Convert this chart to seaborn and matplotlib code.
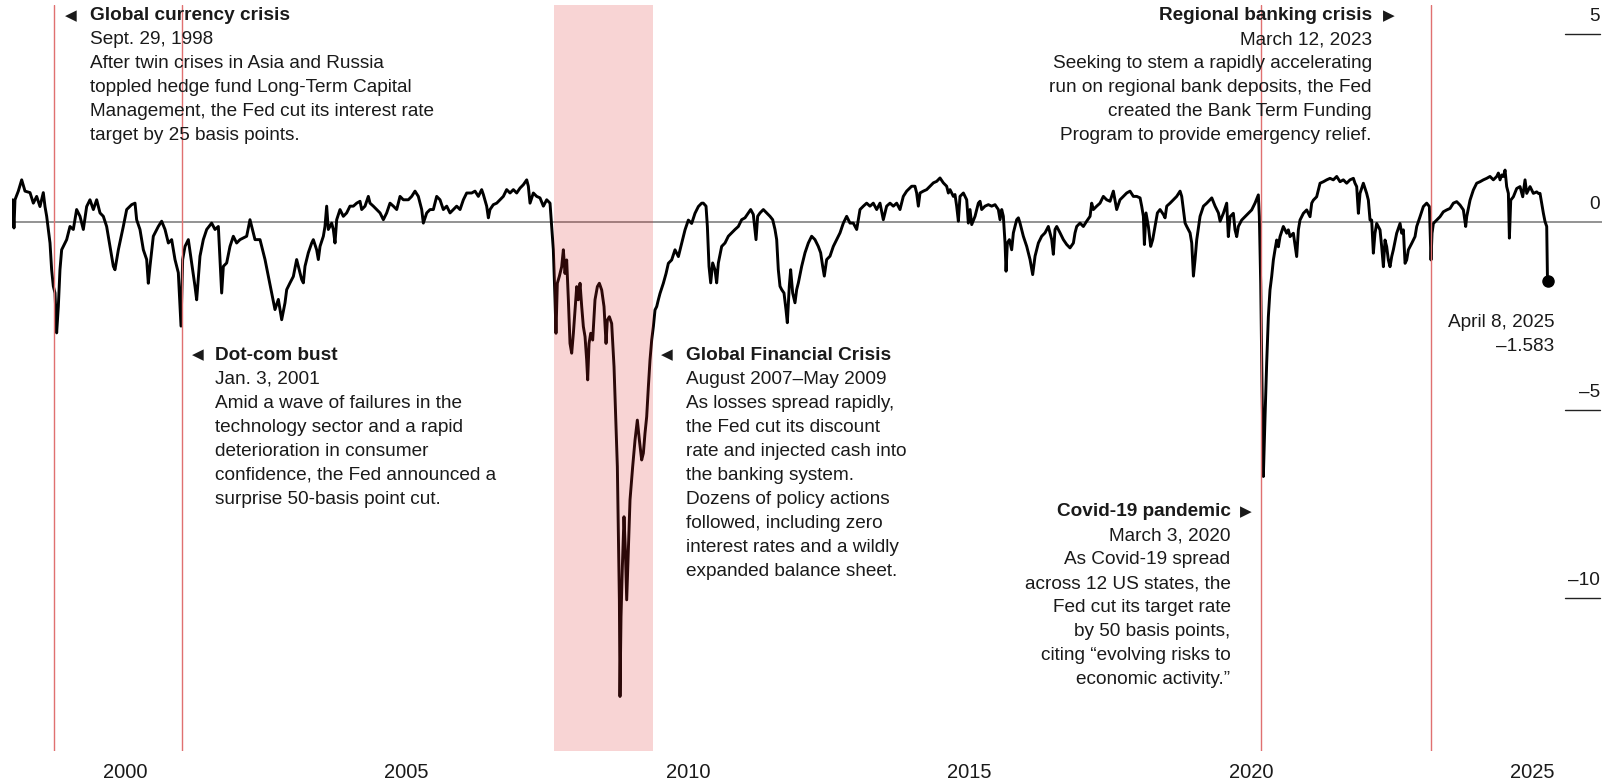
import matplotlib
matplotlib.use("Agg")
import matplotlib.pyplot as plt
import matplotlib.transforms as mtransforms
import numpy as np
import pandas as pd
import seaborn as sns

# Financial conditions index (decimal year, value).
years_98_03 = [1998.005, 1998.028, 1998.046, 1998.105, 1998.165, 1998.224, 1998.313, 1998.372, 1998.431, 1998.490,
               1998.549, 1998.579, 1998.609, 1998.668, 1998.697, 1998.727, 1998.757, 1998.786, 1998.816, 1998.845,
               1998.875, 1998.905, 1998.964, 1999.023, 1999.082, 1999.141, 1999.201, 1999.260, 1999.319, 1999.378,
               1999.438, 1999.497, 1999.556, 1999.615, 1999.674, 1999.734, 1999.793, 1999.822, 1999.882, 1999.970,
               2000.030, 2000.118, 2000.178, 2000.207, 2000.266, 2000.326, 2000.385, 2000.414, 2000.444, 2000.503,
               2000.592, 2000.651, 2000.711, 2000.770, 2000.829, 2000.888, 2000.947, 2000.995, 2001.024, 2001.066,
               2001.125, 2001.184, 2001.243, 2001.273, 2001.332, 2001.391, 2001.451, 2001.539, 2001.599, 2001.658,
               2001.717, 2001.747, 2001.806, 2001.865, 2001.924, 2001.983, 2002.043, 2002.161, 2002.220, 2002.250,
               2002.309, 2002.398, 2002.487, 2002.546, 2002.605, 2002.664, 2002.724, 2002.783, 2002.842, 2002.872,
               2002.931, 2002.990, 2003.049, 2003.108]
values_98_03 = [0.59, -0.16, 0.59, 0.82, 1.12, 0.82, 0.78, 0.50, 0.68, 0.41,
                0.78, 0.41, 0.15, -0.56, -1.27, -1.71, -1.89, -2.95, -2.24, -1.27,
                -0.74, -0.65, -0.47, -0.12, -0.20, 0.33, 0.15, -0.20, 0.41, 0.59,
                0.33, 0.59, 0.24, 0.15, -0.12, -0.65, -1.18, -1.27, -0.74, -0.12,
                0.33, 0.46, 0.50, 0.06, -0.20, -0.74, -1.00, -1.63, -1.18, -0.38,
                -0.12, 0.02, -0.20, -0.56, -0.47, -1.00, -1.35, -2.77, -1.00, -0.65,
                -0.47, -1.09, -1.71, -2.07, -0.91, -0.47, -0.20, -0.03, -0.20, -0.12,
                -1.89, -1.18, -1.09, -0.65, -0.38, -0.56, -0.47, -0.38, 0.06, -0.12,
                -0.47, -0.47, -1.00, -1.44, -1.88, -2.33, -2.06, -2.60, -2.15, -1.80,
                -1.62, -1.45, -1.00, -1.35]

years_03_07 = [2003.138, 2003.168, 2003.197, 2003.256, 2003.316, 2003.345, 2003.404, 2003.434, 2003.464, 2003.523,
               2003.552, 2003.582, 2003.611, 2003.671, 2003.700, 2003.730, 2003.760, 2003.819, 2003.878, 2003.937,
               2003.996, 2004.056, 2004.115, 2004.174, 2004.204, 2004.263, 2004.322, 2004.352, 2004.411, 2004.470,
               2004.530, 2004.589, 2004.648, 2004.707, 2004.767, 2004.826, 2004.885, 2004.944, 2005.033, 2005.092,
               2005.151, 2005.210, 2005.270, 2005.299, 2005.359, 2005.418, 2005.477, 2005.536, 2005.595, 2005.654,
               2005.714, 2005.773, 2005.832, 2005.891, 2005.951, 2006.010, 2006.069, 2006.158, 2006.217, 2006.276,
               2006.335, 2006.365, 2006.424, 2006.454, 2006.483, 2006.542, 2006.602, 2006.661, 2006.720, 2006.779,
               2006.839, 2006.898, 2006.957, 2007.016, 2007.075, 2007.135, 2007.164, 2007.194, 2007.253, 2007.312,
               2007.371, 2007.431, 2007.490, 2007.549]
values_03_07 = [-1.53, -1.62, -1.18, -0.82, -0.56, -0.47, -0.74, -1.00, -0.65, -0.38,
                -0.12, 0.42, -0.20, -0.03, -0.20, -0.56, 0.06, 0.33, 0.15, 0.24,
                0.42, 0.42, 0.50, 0.55, 0.33, 0.42, 0.68, 0.50, 0.42, 0.33,
                0.24, 0.06, 0.24, 0.50, 0.42, 0.33, 0.68, 0.59, 0.59, 0.68,
                0.82, 0.68, 0.33, -0.03, 0.24, 0.33, 0.33, 0.68, 0.59, 0.33,
                0.42, 0.24, 0.33, 0.42, 0.33, 0.59, 0.77, 0.77, 0.82, 0.68,
                0.86, 0.73, 0.42, 0.11, 0.33, 0.46, 0.50, 0.59, 0.68, 0.86,
                0.77, 0.86, 0.77, 0.90, 0.99, 1.12, 0.95, 0.50, 0.77, 0.68,
                0.64, 0.42, 0.59, 0.50]

years_07_10 = [2007.578, 2007.608, 2007.638, 2007.655, 2007.679, 2007.714, 2007.756, 2007.786, 2007.815, 2007.845,
               2007.875, 2007.904, 2007.934, 2007.964, 2007.993, 2008.023, 2008.052, 2008.082, 2008.112, 2008.141,
               2008.171, 2008.200, 2008.218, 2008.242, 2008.272, 2008.307, 2008.348, 2008.390, 2008.425, 2008.467,
               2008.508, 2008.544, 2008.567, 2008.603, 2008.644, 2008.686, 2008.715, 2008.745, 2008.763, 2008.781,
               2008.792, 2008.810, 2008.834, 2008.863, 2008.887, 2008.911, 2008.940, 2008.970, 2009.017, 2009.059,
               2009.100, 2009.136, 2009.177, 2009.207, 2009.236, 2009.266, 2009.296, 2009.325, 2009.355, 2009.385,
               2009.414, 2009.444, 2009.473, 2009.503, 2009.562, 2009.610, 2009.651, 2009.710, 2009.769, 2009.829,
               2009.888, 2009.947, 2010.006, 2010.065, 2010.124, 2010.184, 2010.243]
values_07_10 = [-0.12, -0.74, -2.07, -2.96, -1.63, -1.45, -1.19, -0.74, -1.37, -1.01,
                -2.07, -3.23, -3.49, -2.96, -2.34, -1.72, -2.07, -1.63, -2.25, -2.78,
                -3.05, -3.67, -4.20, -3.23, -2.96, -3.14, -2.07, -1.72, -1.63, -1.81,
                -2.25, -3.23, -2.61, -2.52, -2.70, -3.85, -5.18, -6.51, -8.28, -10.05,
                -12.62, -10.50, -9.17, -7.84, -8.72, -10.05, -8.72, -7.39, -6.51, -5.80,
                -5.27, -5.80, -6.33, -6.15, -5.62, -5.18, -4.38, -3.67, -3.14, -2.78,
                -2.34, -2.25, -2.07, -1.90, -1.63, -1.37, -1.10, -1.01, -0.74, -0.92,
                -0.57, -0.21, 0.05, -0.04, 0.23, 0.41, 0.50]

years_10_14 = [2010.272, 2010.320, 2010.344, 2010.373, 2010.403, 2010.438, 2010.479, 2010.509, 2010.539, 2010.598,
               2010.657, 2010.716, 2010.776, 2010.835, 2010.894, 2010.953, 2011.012, 2011.072, 2011.113, 2011.160,
               2011.208, 2011.237, 2011.279, 2011.338, 2011.397, 2011.456, 2011.504, 2011.545, 2011.575, 2011.604,
               2011.634, 2011.664, 2011.705, 2011.740, 2011.764, 2011.799, 2011.823, 2011.859, 2011.900, 2011.930,
               2011.960, 2012.019, 2012.078, 2012.137, 2012.196, 2012.255, 2012.314, 2012.356, 2012.392, 2012.421,
               2012.463, 2012.522, 2012.581, 2012.640, 2012.700, 2012.759, 2012.818, 2012.877, 2012.936, 2012.996,
               2013.025, 2013.055, 2013.114, 2013.173, 2013.232, 2013.291, 2013.351, 2013.410, 2013.469, 2013.528,
               2013.588, 2013.647, 2013.706, 2013.765, 2013.824, 2013.884, 2013.972, 2014.031, 2014.061, 2014.091]
values_10_14 = [0.50, 0.42, -0.12, -1.18, -1.62, -1.09, -1.27, -1.62, -1.09, -0.65,
                -0.56, -0.38, -0.29, -0.20, -0.12, 0.06, 0.11, 0.24, 0.33, 0.20,
                -0.47, 0.15, 0.24, 0.33, 0.24, 0.15, 0.06, -0.20, -0.47, -1.27,
                -1.71, -1.80, -1.89, -2.33, -2.68, -1.71, -1.27, -1.89, -2.15, -1.80,
                -1.62, -1.18, -0.82, -0.56, -0.38, -0.47, -0.65, -0.82, -1.18, -1.44,
                -1.00, -0.91, -0.65, -0.47, -0.29, -0.03, 0.15, -0.03, -0.03, -0.20,
                0.06, 0.33, 0.42, 0.50, 0.42, 0.50, 0.33, 0.50, 0.06, 0.42,
                0.50, 0.42, 0.50, 0.33, 0.68, 0.82, 0.95, 0.95, 0.77, 0.42]

years_14_19 = [2014.121, 2014.180, 2014.239, 2014.298, 2014.358, 2014.417, 2014.476, 2014.535, 2014.594, 2014.624,
               2014.654, 2014.713, 2014.742, 2014.772, 2014.802, 2014.831, 2014.891, 2014.950, 2014.979, 2015.009,
               2015.039, 2015.098, 2015.157, 2015.187, 2015.216, 2015.275, 2015.335, 2015.394, 2015.453, 2015.512,
               2015.542, 2015.572, 2015.601, 2015.631, 2015.649, 2015.672, 2015.708, 2015.749, 2015.779, 2015.838,
               2015.868, 2015.897, 2015.956, 2016.016, 2016.075, 2016.122, 2016.164, 2016.223, 2016.282, 2016.341,
               2016.400, 2016.460, 2016.489, 2016.519, 2016.549, 2016.608, 2016.667, 2016.726, 2016.785, 2016.845,
               2016.874, 2016.904, 2016.963, 2017.022, 2017.081, 2017.141, 2017.170, 2017.200, 2017.259, 2017.318,
               2017.377, 2017.436, 2017.496, 2017.555, 2017.614, 2017.673, 2017.733, 2017.792, 2017.851, 2017.910,
               2017.969, 2018.029, 2018.058, 2018.088, 2018.106, 2018.135, 2018.177, 2018.218, 2018.254, 2018.295,
               2018.337, 2018.384, 2018.443, 2018.473, 2018.503, 2018.562, 2018.621, 2018.680, 2018.740, 2018.769,
               2018.799, 2018.829, 2018.858, 2018.917, 2018.947, 2018.977, 2019.006, 2019.036, 2019.095, 2019.155,
               2019.214, 2019.303, 2019.362, 2019.421, 2019.451]
values_14_19 = [0.77, 0.82, 0.86, 0.95, 1.04, 1.08, 1.17, 1.04, 0.95, 0.77,
                0.86, 0.68, 0.73, 0.42, 0.02, 0.68, 0.77, 0.59, -0.03, 0.33,
                -0.07, 0.15, 0.50, 0.55, 0.33, 0.42, 0.46, 0.42, 0.46, 0.33,
                0.06, 0.33, 0.15, -0.56, -1.31, -0.56, -0.47, -0.74, -0.29, 0.06,
                0.11, -0.03, -0.38, -0.65, -1.00, -1.40, -0.91, -0.56, -0.38, -0.29,
                -0.12, -0.47, -0.86, -0.20, -0.12, -0.29, -0.47, -0.60, -0.69, -0.56,
                -0.29, -0.12, -0.03, -0.12, 0.02, 0.15, 0.50, 0.33, 0.42, 0.50,
                0.68, 0.59, 0.55, 0.82, 0.33, 0.59, 0.68, 0.77, 0.82, 0.68,
                0.68, 0.64, 0.42, 0.15, -0.60, 0.24, -0.12, -0.65, -0.47, -0.12,
                0.24, 0.33, 0.20, 0.11, 0.42, 0.50, 0.59, 0.68, 0.82, 0.68,
                0.33, -0.03, -0.12, -0.29, -0.56, -1.44, -1.00, -0.47, 0.15, 0.42,
                0.50, 0.64, 0.42, 0.24, 0.02]

years_19_25 = [2019.509, 2019.568, 2019.597, 2019.627, 2019.686, 2019.716, 2019.746, 2019.775, 2019.834, 2019.893,
               2019.953, 2020.012, 2020.071, 2020.130, 2020.148, 2020.172, 2020.195, 2020.219, 2020.249, 2020.278,
               2020.308, 2020.337, 2020.367, 2020.397, 2020.426, 2020.456, 2020.486, 2020.515, 2020.574, 2020.634,
               2020.663, 2020.693, 2020.752, 2020.811, 2020.841, 2020.870, 2020.930, 2020.989, 2021.048, 2021.078,
               2021.107, 2021.166, 2021.196, 2021.226, 2021.285, 2021.344, 2021.403, 2021.462, 2021.522, 2021.581,
               2021.640, 2021.699, 2021.758, 2021.818, 2021.847, 2021.877, 2021.907, 2021.936, 2021.995, 2022.054,
               2022.084, 2022.114, 2022.143, 2022.173, 2022.202, 2022.232, 2022.291, 2022.321, 2022.351, 2022.380,
               2022.410, 2022.439, 2022.469, 2022.499, 2022.528, 2022.587, 2022.647, 2022.676, 2022.706, 2022.736,
               2022.765, 2022.795, 2022.854, 2022.913, 2022.943, 2023.002, 2023.061, 2023.120, 2023.168, 2023.197,
               2023.215, 2023.239, 2023.298, 2023.357, 2023.416, 2023.476, 2023.535, 2023.594, 2023.653, 2023.712,
               2023.772, 2023.813, 2023.831, 2023.890, 2023.949, 2024.008, 2024.068, 2024.127, 2024.186, 2024.245,
               2024.304, 2024.364, 2024.393, 2024.423, 2024.453, 2024.482, 2024.512, 2024.541, 2024.571, 2024.589,
               2024.613, 2024.660, 2024.719, 2024.778, 2024.826, 2024.867, 2024.897, 2024.956, 2025.015, 2025.074,
               2025.104, 2025.133, 2025.163, 2025.193, 2025.222, 2025.252, 2025.266]
values_19_25 = [0.23, 0.50, -0.39, 0.14, 0.23, -0.21, -0.39, -0.12, 0.05, 0.14,
                0.23, 0.32, 0.50, 0.72, 0.14, -1.63, -4.29, -6.77, -5.18, -3.76,
                -2.52, -1.81, -1.45, -1.01, -0.74, -0.48, -0.66, -0.39, -0.12, -0.30,
                -0.21, -0.39, -0.30, -0.92, -0.21, 0.05, 0.23, 0.32, 0.14, 0.50,
                0.58, 0.67, 0.85, 1.03, 1.07, 1.12, 1.16, 1.12, 1.21, 1.07,
                1.12, 1.03, 1.12, 1.16, 1.03, 0.94, 0.23, 0.76, 1.03, 0.76,
                0.58, 0.05, 0.05, -0.83, -0.30, -0.04, -0.21, -0.66, -1.19, -0.48,
                -0.66, -1.01, -1.19, -0.92, -0.74, -0.30, -0.04, -0.30, -0.21, -1.10,
                -1.01, -0.74, -0.57, -0.39, -0.12, 0.14, 0.41, 0.50, 0.41, -1.01,
                -0.30, -0.04, 0.05, 0.14, 0.27, 0.32, 0.36, 0.50, 0.54, 0.45,
                0.32, -0.12, 0.14, 0.58, 0.85, 1.03, 1.07, 1.12, 1.16, 1.21,
                1.12, 1.21, 1.30, 1.12, 1.25, 1.21, 1.38, 0.94, 0.76, -0.43,
                0.58, 0.67, 0.89, 0.94, 0.67, 1.12, 0.76, 0.94, 0.76, 0.80,
                0.76, 0.76, 0.50, 0.23, 0.01, -0.12, -1.583]

event_dates = ["1998-09-29", "2001-01-03", "2020-03-03", "2023-03-12"]
gfc_start, gfc_end = "2007-08-16", "2009-05-20"
x_ticks = [2000, 2005, 2010, 2015, 2020, 2025]
y_ticks = [5, 0, -5, -10]
y_tick_labels = ["5", "0", "–5", "–10"]
last_label = ["April 8, 2025", "–1.583"]

notes = [
    {"title": "Global currency crisis", "side": "right",
     "body": ["Sept. 29, 1998", "After twin crises in Asia and Russia",
              "toppled hedge fund Long-Term Capital",
              "Management, the Fed cut its interest rate", "target by 25 basis points."]},
    {"title": "Dot-com bust", "side": "right",
     "body": ["Jan. 3, 2001", "Amid a wave of failures in the", "technology sector and a rapid",
              "deterioration in consumer", "confidence, the Fed announced a",
              "surprise 50-basis point cut."]},
    {"title": "Global Financial Crisis", "side": "right",
     "body": ["August 2007–May 2009", "As losses spread rapidly,", "the Fed cut its discount",
              "rate and injected cash into", "the banking system.", "Dozens of policy actions",
              "followed, including zero", "interest rates and a wildly", "expanded balance sheet."]},
    {"title": "Covid-19 pandemic", "side": "left",
     "body": ["March 3, 2020", "As Covid-19 spread", "across 12 US states, the",
              "Fed cut its target rate", "by 50 basis points,", "citing “evolving risks to",
              "economic activity.”"]},
    {"title": "Regional banking crisis", "side": "left",
     "body": ["March 12, 2023", "Seeking to stem a rapidly accelerating",
              "run on regional bank deposits, the Fed", "created the Bank Term Funding",
              "Program to provide emergency relief."]},
]


def to_decimal_year(s):
    d = pd.Timestamp(s)
    days = 366 if d.is_leap_year else 365
    return d.year + (d.dayofyear - 1) / days


df = pd.DataFrame({
    "year": years_98_03 + years_03_07 + years_07_10 + years_10_14 + years_14_19 + years_19_25,
    "value": values_98_03 + values_03_07 + values_07_10 + values_10_14 + values_14_19 + values_19_25,
})
event_x = [to_decimal_year(d) for d in event_dates]
gfc_x = (to_decimal_year(gfc_start), to_decimal_year(gfc_end))

sns.set_style("white")
plt.rcParams["font.family"] = ["Liberation Sans", "DejaVu Sans"]
ink = "#1a1a1a"
fs = 13.7

fig = plt.figure(figsize=(16.06, 7.84), dpi=100)
ax = fig.add_axes([12 / 1606, 1 - 751 / 784, 1590 / 1606, 746 / 784])

ax.axhline(0, color="#8a8a8a", lw=1.3, zorder=1)
sns.lineplot(data=df, x="year", y="value", color="black", lw=2.1, ax=ax, zorder=2)
for ex in event_x:
    ax.axvline(ex, color="#e07070", lw=1.0, zorder=3)
ax.axvspan(*gfc_x, color="#e02a2a", alpha=0.2, lw=0, zorder=4)
ax.plot(df["year"].iloc[-1], df["value"].iloc[-1], "o", color="black", ms=8, zorder=5)

ax.set_xlim(1997.993, 2026.234)
ax.set_ylim(-14.07, 5.77)
for s in ax.spines.values():
    s.set_visible(False)
ax.spines["bottom"].set_position(("outward", 2))
ax.set_xticks(x_ticks)
ax.set_xticklabels([str(t) for t in x_ticks])
ax.tick_params(axis="x", direction="out", length=5, width=1, color="#333333",
               labelsize=14.5, labelcolor=ink, pad=1.5)
ax.set_yticks([])
ax.set_xlabel("")
ax.set_ylabel("")

# right-hand value scale: label sitting on a short rule
trans_y = mtransforms.blended_transform_factory(ax.transAxes, ax.transData)
for v, lab in zip(y_ticks, y_tick_labels):
    if v != 0:
        ax.plot([1 - 37 / 1590, 1 - 2 / 1590], [v, v], transform=trans_y, color="#222222", lw=1, zorder=1)
    ax.annotate(lab, xy=(1 - 2 / 1590, v), xycoords=trans_y, xytext=(0, 17),
                textcoords="offset pixels", ha="right", va="center", fontsize=fs, color=ink)

# event notes
trans_x = mtransforms.blended_transform_factory(ax.transData, ax.transAxes)
anchors = [event_x[0], event_x[1], gfc_x[1], event_x[2], event_x[3]]
arrow_dx = [17, 16, 14, -15, -42]
text_dx = [36, 33, 33, -30, -59]
top_dy = [-11, -350, -350, -507, -11]
for note, ax_x, adx, tdx, tdy in zip(notes, anchors, arrow_dx, text_dx, top_dy):
    right = note["side"] == "right"
    ha = "left" if right else "right"
    ax.annotate("◀" if right else "▶", xy=(ax_x, 1), xycoords=trans_x, xytext=(adx, tdy),
                textcoords="offset pixels", ha="center", va="center", fontsize=11, color=ink,
                family=["DejaVu Sans"])
    ax.annotate(note["title"], xy=(ax_x, 1), xycoords=trans_x, xytext=(tdx, tdy),
                textcoords="offset pixels", ha=ha, va="center", fontsize=fs,
                fontweight="bold", color=ink)
    for i, line in enumerate(note["body"]):
        ax.annotate(line, xy=(ax_x, 1), xycoords=trans_x, xytext=(tdx, tdy - 24 * (i + 1)),
                    textcoords="offset pixels", ha=ha, va="center", fontsize=fs, color=ink)

for i, line in enumerate(last_label):
    ax.annotate(line, xy=(df["year"].iloc[-1], df["value"].iloc[-1]), xytext=(7, -41 - 24 * i),
                textcoords="offset pixels", ha="right", va="center", fontsize=fs, color=ink)

fig.savefig("out.png", dpi=100)
